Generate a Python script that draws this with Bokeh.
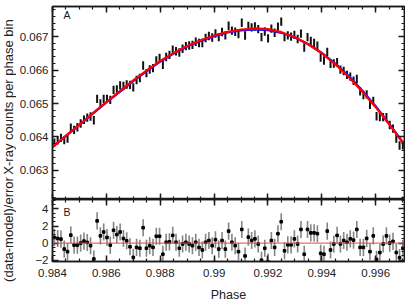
from bokeh.plotting import figure
from bokeh.layouts import row, column
from bokeh.models import (Range1d, LinearAxis, FixedTicker, Label, Span,
                          PrintfTickFormatter)
from bokeh.embed import file_html
from bokeh.resources import INLINE

# ---------------- data ----------------
bin_width = 1.0 / 8192          # phase bin width
first_bin = 8061                # index of the first phase bin shown

counts = [
    0.063831, 0.063899, 0.063973, 0.063908, 0.063953, 0.064276, 0.064211, 0.064291, 0.064402, 0.064514,
    0.064578, 0.064613, 0.064500, 0.065138, 0.065001, 0.065138, 0.065138, 0.065107, 0.065405, 0.065422,
    0.065540, 0.065524, 0.065567, 0.065558, 0.065481, 0.065700, 0.065761, 0.066135, 0.065908, 0.066014,
    0.066057, 0.066288, 0.066357, 0.066154, 0.066389, 0.066453, 0.066606, 0.066560, 0.066523, 0.066636,
    0.066713, 0.066733, 0.066749, 0.066842, 0.066807, 0.066808, 0.066955, 0.067014, 0.066972, 0.067091,
    0.066981, 0.067133, 0.067034, 0.067320, 0.067176, 0.067141, 0.067072, 0.067411, 0.067031, 0.067315,
    0.067272, 0.067302, 0.067221, 0.066980, 0.067150, 0.066944, 0.067235, 0.067112, 0.067291, 0.067444,
    0.066982, 0.067034, 0.066997, 0.067049, 0.066924, 0.067085, 0.066671, 0.066983, 0.066871, 0.066805,
    0.066727, 0.066373, 0.066284, 0.066542, 0.066186, 0.066193, 0.066231, 0.066013, 0.065971, 0.065853,
    0.065804, 0.065680, 0.065732, 0.065364, 0.065255, 0.065272, 0.064963, 0.065080, 0.064618, 0.064594,
    0.064594, 0.064589, 0.064357, 0.064250, 0.063955, 0.063748, 0.063755,
]
count_err = 0.000125

resid = [
    0.66, 0.54, 0.47, -0.7, -1.0, 0.93, -0.23, -0.23, 0.0, 0.23,
    0.08, -0.3, -1.86, 2.6, 0.85, 1.3, 0.66, -0.23, 1.5, 1.0,
    1.3, 0.54, 0.27, -0.43, -1.67, -0.5, -0.6, 1.8, -0.6, -0.3,
    -0.5, 0.8, 0.8, -1.3, 0.1, 0.15, 0.9, 0.1, -0.6, -0.1,
    0.1, -0.1, -0.3, 0.1, -0.5, -0.8, 0.1, 0.3, -0.3, 0.4,
    -0.7, 0.3, -0.7, 1.4, 0.1, -0.3, -1.0, 1.6, -1.5, 0.7,
    0.3, 0.5, -0.1, -2.0, -0.6, -2.2, 0.3, -0.5, 1.1, 2.5,
    -0.9, -0.2, -0.2, 0.5, -0.1, 1.6, -1.3, 1.6, 1.2, 1.2,
    1.1, -1.2, -1.3, 1.4, -0.8, -0.1, 0.9, -0.1, 0.3, 0.1,
    0.5, 0.35, 1.6, -0.5, -0.5, 0.55, -1.0, 0.85, -1.9, -1.1,
    -0.1, 0.85, 0.0, 0.2, -1.1, -1.7, -0.6,
]
resid_err = 1.0

model_phase = [0.9840, 0.9845, 0.9850, 0.9855, 0.9860, 0.9865, 0.9870, 0.9875, 0.9880,
               0.9885, 0.9890, 0.9895, 0.9900, 0.9905, 0.9910, 0.9915, 0.9920, 0.9925,
               0.9930, 0.9935, 0.9940, 0.9945, 0.9950, 0.9955, 0.9960, 0.9965, 0.9970]
model_red = [0.06370, 0.06404, 0.06437, 0.06471, 0.06504, 0.06537, 0.06569, 0.06599, 0.06627,
             0.06651, 0.06672, 0.06689, 0.06703, 0.06714, 0.06721, 0.06724, 0.06722, 0.06713,
             0.06698, 0.06677, 0.06650, 0.06617, 0.06579, 0.06536, 0.06489, 0.06438, 0.06384]
model_blue = [0.06370, 0.06403, 0.06436, 0.06470, 0.06503, 0.06535, 0.06567, 0.06597, 0.06625,
              0.06649, 0.06670, 0.06687, 0.06701, 0.06712, 0.06718, 0.06721, 0.06719, 0.06711,
              0.06697, 0.06677, 0.06651, 0.06619, 0.06582, 0.06539, 0.06492, 0.06440, 0.06385]

x_ticks = [0.984, 0.986, 0.988, 0.990, 0.992, 0.994, 0.996]
y_ticks_top = [0.063, 0.064, 0.065, 0.066, 0.067]
y_ticks_bot = [-2, 0, 2, 4]

phase = [(first_bin + k + 0.5) * bin_width for k in range(len(counts))]

# ---------------- styling helpers ----------------
FONT = "Liberation Sans"
INK = "#1a1a1a"
TXT = "#222222"
X_RANGE = (0.984, 0.99707)

x_minor = [0.9835 + 0.0005 * k for k in range(30)]
y_minor_top = [0.0620 + 0.0002 * k for k in range(30)]
y_minor_bot = [-2.5 + 0.5 * k for k in range(17)]


def style_axis(ax, show_labels):
    ax.major_tick_in = 6
    ax.major_tick_out = 0
    ax.minor_tick_in = 3
    ax.minor_tick_out = 0
    ax.major_tick_line_width = 1.5
    ax.minor_tick_line_width = 1.2
    ax.major_tick_line_color = INK
    ax.minor_tick_line_color = INK
    ax.axis_line_color = INK
    ax.axis_line_width = 1.5
    if show_labels:
        ax.major_label_text_font = FONT
        ax.major_label_text_font_size = "11.5px"
        ax.major_label_text_color = TXT
        ax.major_label_standoff = 4
    else:
        # mirror axis: ticks only, labels not painted
        ax.major_label_text_font_size = "1px"
        ax.major_label_text_color = None
        ax.major_label_text_alpha = 0
        ax.major_label_standoff = 0
        ax.axis_label_standoff = 0


def make_fig(height, y_range, **borders):
    p = figure(width=389, height=height, x_range=Range1d(*X_RANGE), y_range=y_range,
               output_backend="svg", toolbar_location=None,
               min_border_left=33, min_border_right=1, **borders)
    p.grid.visible = False
    p.outline_line_color = INK
    p.outline_line_width = 1.5
    p.background_fill_color = "white"
    p.border_fill_color = "white"
    return p


# ---------------- top panel ----------------
top = make_fig(199, Range1d(0.062134, 0.067896), min_border_top=6, min_border_bottom=0)
xt = FixedTicker(ticks=x_ticks, minor_ticks=x_minor)
yt = FixedTicker(ticks=y_ticks_top, minor_ticks=y_minor_top)
top.xaxis.ticker = xt
top.yaxis.ticker = yt
top.yaxis.formatter = PrintfTickFormatter(format="%.3f")
style_axis(top.xaxis[0], False)
style_axis(top.yaxis[0], True)
ax_t = LinearAxis(ticker=xt)
style_axis(ax_t, False)
top.add_layout(ax_t, "above")
ay_t = LinearAxis(ticker=yt)
style_axis(ay_t, False)
top.add_layout(ay_t, "right")

top.segment(x0=phase, y0=[c - count_err for c in counts], x1=phase,
            y1=[c + count_err for c in counts], line_color="#111111", line_width=2)
top.line(model_phase, model_blue, line_color="#1010ff", line_width=2.2)
top.line(model_phase, model_red, line_color="#ff0000", line_width=2.2)
top.add_layout(Label(x=0.98441, y=0.067457, text="A", text_font=FONT,
                     text_font_size="10.5px", text_color=INK))

# ---------------- bottom panel ----------------
bot = make_fig(108, Range1d(-2.15, 5.1), min_border_top=0, min_border_bottom=46)
xb = FixedTicker(ticks=x_ticks, minor_ticks=x_minor)
yb = FixedTicker(ticks=y_ticks_bot, minor_ticks=y_minor_bot)
bot.xaxis.ticker = xb
bot.yaxis.ticker = yb
bot.xaxis.formatter = PrintfTickFormatter(format="%.3g")
style_axis(bot.xaxis[0], True)
style_axis(bot.yaxis[0], True)
bot.xaxis.major_label_standoff = 7
bot.xaxis.axis_label = "Phase"
bot.xaxis.axis_label_text_font = FONT
bot.xaxis.axis_label_text_font_size = "12.5px"
bot.xaxis.axis_label_text_font_style = "normal"
bot.xaxis.axis_label_text_color = TXT
bot.xaxis.axis_label_standoff = 8
ax_b = LinearAxis(ticker=xb)
style_axis(ax_b, False)
bot.add_layout(ax_b, "above")
ay_b = LinearAxis(ticker=yb)
style_axis(ay_b, False)
bot.add_layout(ay_b, "right")

bot.add_layout(Span(location=0, dimension="width", line_color="#e04848", line_width=1))
bot.segment(x0=phase, y0=[r - resid_err for r in resid], x1=phase,
            y1=[r + resid_err for r in resid], line_color="#858585", line_width=1.6)
bot.scatter(phase, resid, marker="square", size=2.6, color="#000000")
bot.add_layout(Label(x=0.98441, y=2.89, text="B", text_font=FONT,
                     text_font_size="10.5px", text_color=INK))

# ---------------- axis titles (shared left column) ----------------
lab = figure(width=16, height=307, x_range=Range1d(0, 16), y_range=Range1d(0, 307),
             x_axis_type=None, y_axis_type=None, output_backend="svg",
             toolbar_location=None, min_border=0)
lab.grid.visible = False
lab.outline_line_color = None
lab.add_layout(Label(x=8, y=210.5, text="X-ray counts per phase bin", angle=90,
                     angle_units="deg", text_align="center", text_baseline="middle",
                     text_font=FONT, text_font_size="13px", text_color=TXT))
lab.add_layout(Label(x=8, y=78, text="(data-model)/error", angle=90,
                     angle_units="deg", text_align="center", text_baseline="middle",
                     text_font=FONT, text_font_size="13px", text_color=TXT))

layout = row(lab, column(top, bot))
open("out.html", "w").write(file_html(layout, INLINE))
